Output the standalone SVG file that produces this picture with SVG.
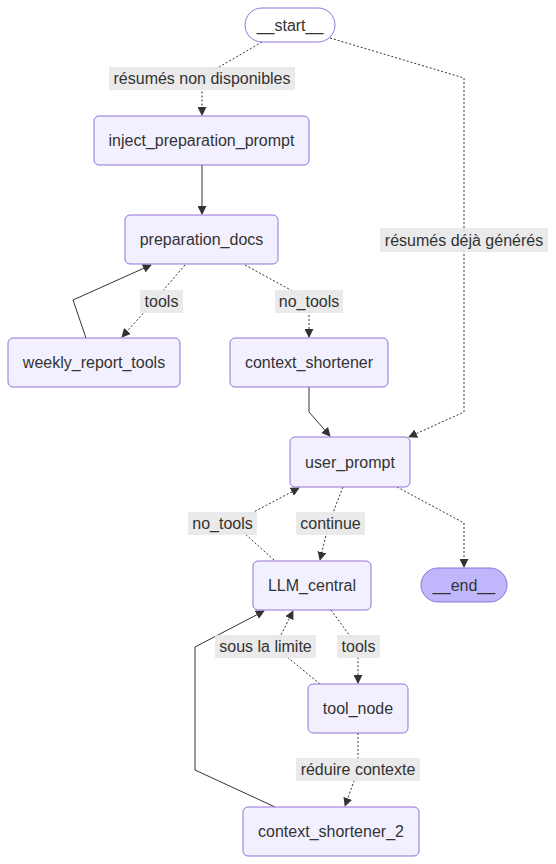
<svg xmlns="http://www.w3.org/2000/svg" width="556" height="864" viewBox="0 0 556 864">
<style>
text{font-family:"Liberation Sans",Arial,sans-serif;font-size:16px;fill:#333;text-anchor:middle;dominant-baseline:central}
.n{fill:#f2f0ff;stroke:#9370DB;stroke-width:1px}
.s{fill:#ffffff;stroke:#9370DB;stroke-width:1px}
.e{fill:#bfb6fc;stroke:#9370DB;stroke-width:1px}
.c{fill:none;stroke:#333;stroke-width:1px}
.d{stroke-dasharray:2 2}
.lb{fill:#e8e8e8;opacity:0.9}
</style>
<defs>
<marker id="a" viewBox="0 0 10 10" refX="9" refY="5" markerWidth="9" markerHeight="9" markerUnits="userSpaceOnUse" orient="auto"><path d="M0,0 L10,5 L0,10 z" fill="#333"/></marker>
</defs>
<g id="connectors">
<polyline class="c d" points="262,42 202,77 202,115" marker-end="url(#a)"/>
<polyline class="c d" points="330,38 464,78 464,412 409,437" marker-end="url(#a)"/>
<polyline class="c" points="202,165 202,190 202,214" marker-end="url(#a)"/>
<polyline class="c d" points="185,265 155,300 122,337" marker-end="url(#a)"/>
<polyline class="c" points="86,338 73,300 151,265" marker-end="url(#a)"/>
<polyline class="c d" points="245,265 309,300 309,337" marker-end="url(#a)"/>
<polyline class="c" points="309,387 309,412 330,436" marker-end="url(#a)"/>
<polyline class="c d" points="343,487 329,523 320,560" marker-end="url(#a)"/>
<polyline class="c d" points="274,560 233,523 299,488" marker-end="url(#a)"/>
<polyline class="c d" points="397,487 464,523 464,567" marker-end="url(#a)"/>
<polyline class="c d" points="331,610 358,647 358,683" marker-end="url(#a)"/>
<polyline class="c d" points="320,684 275,647 293,611" marker-end="url(#a)"/>
<polyline class="c d" points="358,733 358,770 345,806" marker-end="url(#a)"/>
<polyline class="c" points="275,807 195,770 195,647 264,611" marker-end="url(#a)"/>
</g>
<g id="edge-labels">
<rect class="lb" x="109" y="67" width="186" height="23"/><text x="202" y="78.5">résumés non disponibles</text>
<rect class="lb" x="380" y="228" width="168" height="24"/><text x="464" y="240">résumés déjà générés</text>
<rect class="lb" x="140" y="290" width="43" height="23"/><text x="161.5" y="301.5">tools</text>
<rect class="lb" x="275" y="290" width="68" height="23"/><text x="309" y="301.5">no_tools</text>
<rect class="lb" x="296" y="512" width="69" height="23"/><text x="330.5" y="523.5">continue</text>
<rect class="lb" x="188" y="512" width="69" height="23"/><text x="222.5" y="523.5">no_tools</text>
<rect class="lb" x="337" y="635" width="43" height="23"/><text x="358.5" y="646.5">tools</text>
<rect class="lb" x="215" y="635" width="101" height="23"/><text x="265.5" y="646.5">sous la limite</text>
<rect class="lb" x="296" y="758" width="124" height="23"/><text x="358" y="769.5">réduire contexte</text>
</g>
<g id="__start__"><rect class="s" x="245" y="8" width="90" height="34" rx="17"/><text x="290" y="25">__start__</text></g>
<g id="inject_preparation_prompt"><rect class="n" x="94" y="116" width="215" height="49" rx="5"/><text x="201.5" y="140.5">inject_preparation_prompt</text></g>
<g id="preparation_docs"><rect class="n" x="125" y="215" width="153" height="49" rx="5"/><text x="201.5" y="239.5">preparation_docs</text></g>
<g id="weekly_report_tools"><rect class="n" x="8" y="338" width="172" height="49" rx="5"/><text x="94" y="362.5">weekly_report_tools</text></g>
<g id="context_shortener"><rect class="n" x="230" y="338" width="158" height="49" rx="5"/><text x="309" y="362.5">context_shortener</text></g>
<g id="user_prompt"><rect class="n" x="290" y="437" width="120" height="50" rx="5"/><text x="350" y="462">user_prompt</text></g>
<g id="LLM_central"><rect class="n" x="253" y="561" width="118" height="49" rx="5"/><text x="312" y="585.5">LLM_central</text></g>
<g id="__end__"><rect class="e" x="421" y="568" width="86" height="34" rx="17"/><text x="464" y="585">__end__</text></g>
<g id="tool_node"><rect class="n" x="308" y="684" width="100" height="49" rx="5"/><text x="358" y="708.5">tool_node</text></g>
<g id="context_shortener_2"><rect class="n" x="243" y="807" width="176" height="49" rx="5"/><text x="331" y="831.5">context_shortener_2</text></g>
</svg>
